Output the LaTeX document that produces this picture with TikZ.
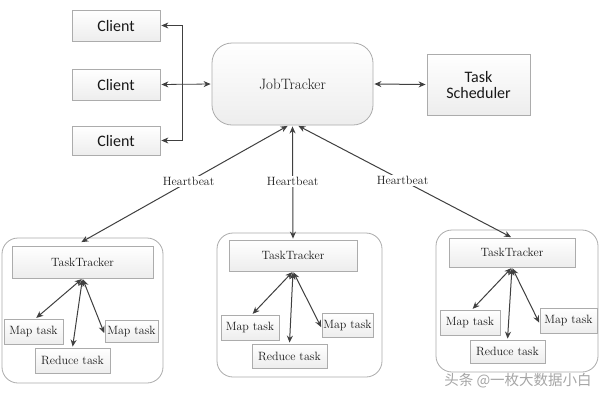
\documentclass[tikz,border=0pt]{standalone}
\usepackage{fontspec}
\newfontfamily\calfont{Carlito}
\newfontfamily\cjkfont{Noto Sans CJK SC}
\usetikzlibrary{arrows.meta,shadows}
\begin{document}
\begin{tikzpicture}[x=1pt,y=-1pt,
  box/.style={draw=gray!65, line width=0.8pt, top color=white, bottom color=gray!14,
    inner sep=0pt, align=center, text=black!90},
  cbox/.style={box, font=\calfont\fontsize{16}{18}\selectfont},
  sbox/.style={box, font=\rmfamily\fontsize{12}{13}\selectfont},
  grp/.style={draw=gray!65, line width=0.8pt, fill=white, rounded corners=16pt, inner sep=0pt},
  con/.style={draw=black!75, line width=1pt, {Stealth[length=7pt,width=6pt]}-{Stealth[length=7pt,width=6pt]}, shorten <=1pt, shorten >=1pt},
  hb/.style={font=\rmfamily\fontsize{12}{13}\selectfont, fill=white, inner sep=1pt, text=black!90}
]
\useasboundingbox (0,0) rectangle (600,400);
\fill[white] (0,0) rectangle (600,400);

% top row
\node[cbox, minimum width=88pt, minimum height=31pt] (c1) at (116,25.5) {Client};
\node[cbox, minimum width=88pt, minimum height=31pt] (c2) at (116,84.5) {Client};
\node[cbox, minimum width=88pt, minimum height=29pt] (c3) at (116,140.5) {Client};
\node[box, rounded corners=20pt, minimum width=161pt, minimum height=82pt,
  font=\rmfamily\fontsize{15}{17}\selectfont] (jt) at (292.5,84) {JobTracker};
\node[cbox, minimum width=103pt, minimum height=61pt] (ts) at (478.5,84.5) {Task\\[-2pt]Scheduler};

\coordinate (bt) at (182,25.5);
\coordinate (bb) at (182,140.5);
\draw[con, line width=0.8pt] (c1.east) -- (bt) -- (bb) -- (c3.east);
\draw[con, line width=0.8pt] (c2.east) -- (jt.west);
\draw[con] (jt.east) -- (ts.west);

% groups
\node[grp, minimum width=161pt, minimum height=145pt] (g1) at (82.5,310.5) {};
\node[grp, minimum width=165pt, minimum height=144pt] (g2) at (299.5,305) {};
\node[grp, minimum width=162pt, minimum height=142pt] (g3) at (517,301) {};

\node[sbox, minimum width=141pt, minimum height=32pt] (tt1) at (82.5,262) {TaskTracker};
\node[sbox, minimum width=59pt, minimum height=25pt] (m1a) at (33.5,331.5) {Map task};
\node[sbox, minimum width=53pt, minimum height=22pt] (m1b) at (131.5,331) {Map task};
\node[sbox, minimum width=75pt, minimum height=25pt] (r1) at (72.5,360.5) {Reduce task};

\node[sbox, minimum width=128pt, minimum height=31pt] (tt2) at (293,255.5) {TaskTracker};
\node[sbox, minimum width=58pt, minimum height=25pt] (m2a) at (250,327.5) {Map task};
\node[sbox, minimum width=51pt, minimum height=24pt] (m2b) at (347.5,325) {Map task};
\node[sbox, minimum width=75pt, minimum height=24pt] (r2) at (289.5,356) {Reduce task};

\node[sbox, minimum width=126pt, minimum height=29pt] (tt3) at (512,252.5) {TaskTracker};
\node[sbox, minimum width=60pt, minimum height=25pt] (m3a) at (470,322.5) {Map task};
\node[sbox, minimum width=57pt, minimum height=25pt] (m3b) at (568.5,320.5) {Map task};
\node[sbox, minimum width=75pt, minimum height=23pt] (r3) at (507.5,351.5) {Reduce task};

% heartbeats
\coordinate (h1) at ([xshift=-4pt]jt.south);
\coordinate (h3) at ([xshift=5pt]jt.south);
\draw[con] (h1) -- node[hb, pos=0.48] {Heartbeat} ([xshift=-2pt,yshift=3pt]tt1.north);
\draw[con] (jt.south) -- node[hb, pos=0.49] {Heartbeat} (tt2.north);
\draw[con] (h3) -- node[hb, pos=0.49] {Heartbeat} (tt3.north);

% inner arrows
\foreach \t/\a/\b/\r in {tt1/m1a/m1b/r1, tt2/m2a/m2b/r2, tt3/m3a/m3b/r3}{
  \draw[con] (\t.south) -- ([xshift=2pt]\a.north);
  \draw[con] (\t.south) -- ([yshift=-3pt]\b.west);
  \draw[con] (\t.south) -- (\r.north);
}

% watermark
\node[text=gray!70, font=\cjkfont\fontsize{14.5}{16}\selectfont, inner sep=0pt] (wm) at (518,381) {头条 @一枚大数据小白};
\end{tikzpicture}
\end{document}
